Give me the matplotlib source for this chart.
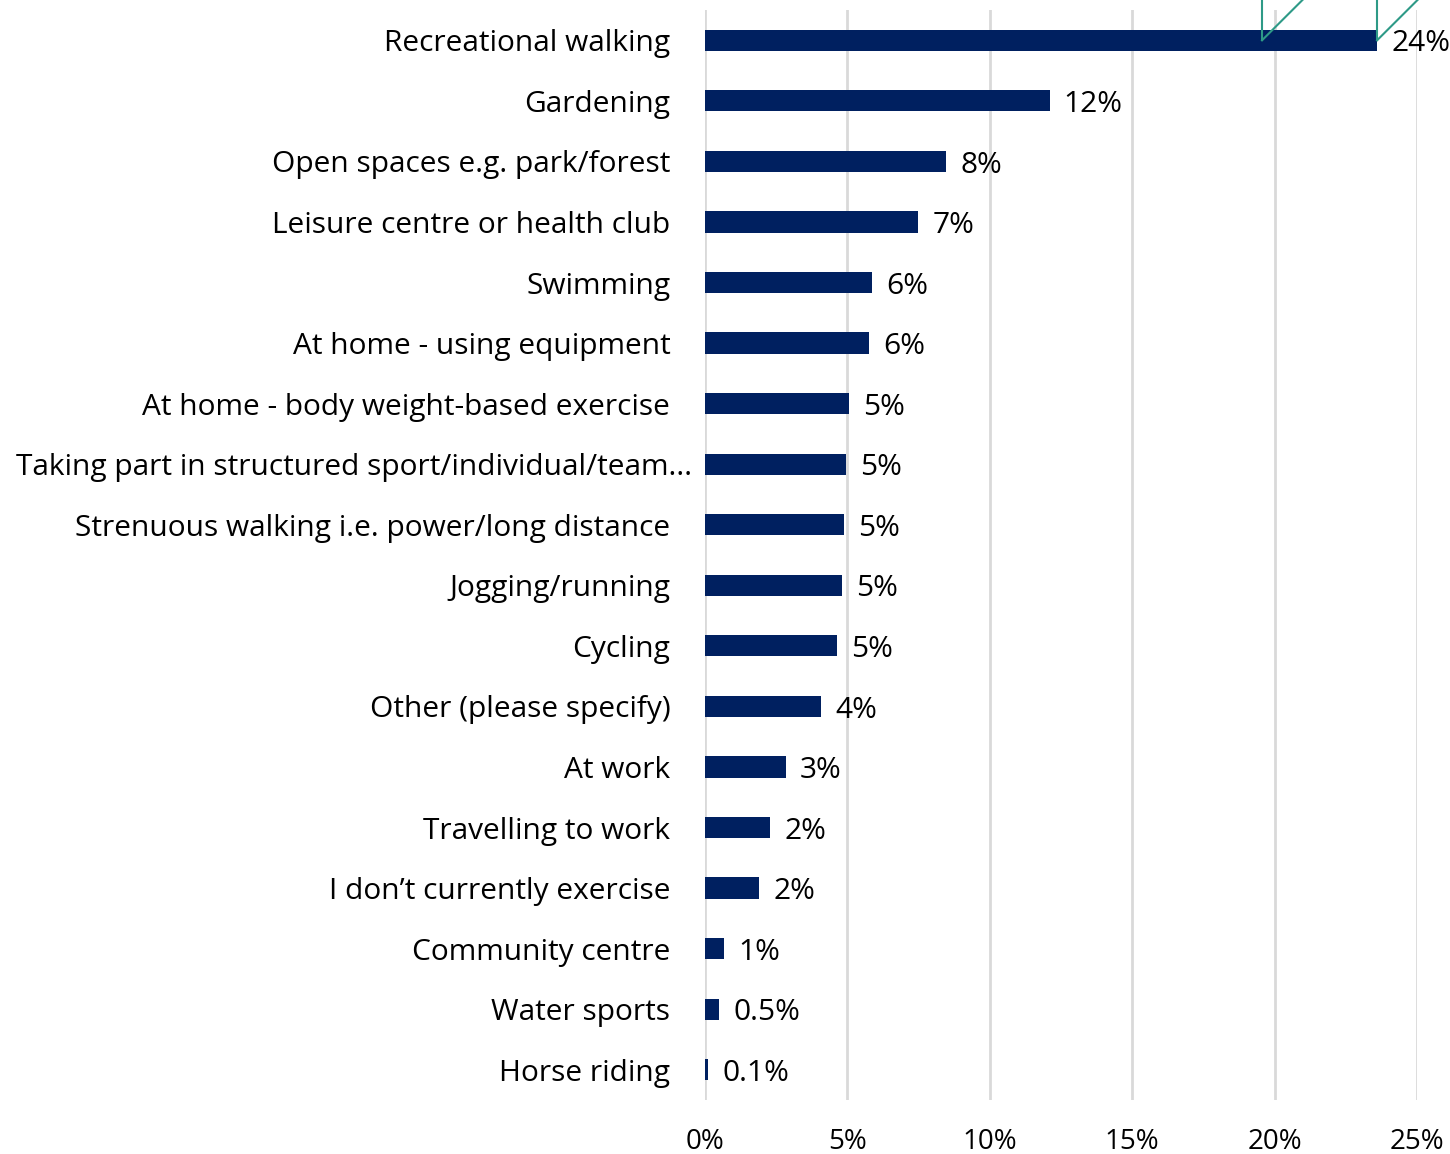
import matplotlib.pyplot as plt
import matplotlib.transforms as mtransforms

# where people exercise, share of responses (%)
activities = [
    "Recreational walking",
    "Gardening",
    "Open spaces e.g. park/forest",
    "Leisure centre or health club",
    "Swimming",
    "At home - using equipment",
    "At home - body weight-based exercise",
    "Taking part in structured sport/individual/team...",
    "Strenuous walking i.e. power/long distance",
    "Jogging/running",
    "Cycling",
    "Other (please specify)",
    "At work",
    "Travelling to work",
    "I don\u2019t currently exercise",
    "Community centre",
    "Water sports",
    "Horse riding",
]
shares = [23.6, 12.1, 8.46, 7.48, 5.86, 5.76, 5.06, 4.95, 4.88, 4.81,
          4.63, 4.07, 2.84, 2.28, 1.90, 0.67, 0.49, 0.1]
xticks = [0, 5, 10, 15, 20, 25]


def pct_label(v):
    if round(v) >= 1:
        return f"{round(v)}%"
    return f"{v:.1f}%"


plt.rcParams['font.family'] = ['Open Sans', 'DejaVu Sans']

fig = plt.figure(figsize=(14.5, 11.54), dpi=100)
ax = fig.add_axes([0.4862, 0.0468, 0.4910, 0.9445])

navy = "#002060"
ypos = list(range(len(activities)))
ax.barh(ypos, shares, height=0.35, color=navy, zorder=3)

for y, v in zip(ypos, shares):
    ax.text(v + 0.5, y + 0.06, pct_label(v), va="center", ha="left",
            fontsize=21.5, color="black", zorder=4)

ax.set_xlim(0, 25)
ax.set_ylim(len(activities) - 0.5, -0.5)
ax.set_yticks(ypos)
ax.set_yticklabels(activities, fontsize=21.5)
ax.tick_params(axis="y", length=0, pad=25)
ax.set_xticks(xticks)
ax.set_xticklabels([f"{t}%" for t in xticks], fontsize=20)
ax.tick_params(axis="x", length=0, pad=20)

ax.grid(axis="x", color="#d9d9d9", linewidth=2, zorder=0)
for s in ax.spines.values():
    s.set_visible(False)

# truncated label sits a little further right
lab = ax.get_yticklabels()[7]
lab.set_transform(lab.get_transform() + mtransforms.ScaledTranslation(22 / 100, 0, fig.dpi_scale_trans))

# teal outline shape peeking in over the top bar
teal = "#2e9a87"
for x0 in (19.56, shares[0]):
    ax.plot([x0, x0], [-0.0, -0.75], color=teal, lw=1.5, clip_on=False, zorder=5)
    ax.plot([x0, x0 + 1.6], [-0.0, -0.75], color=teal, lw=1.5, clip_on=False, zorder=5)

fig.savefig("out.png", dpi=100)
